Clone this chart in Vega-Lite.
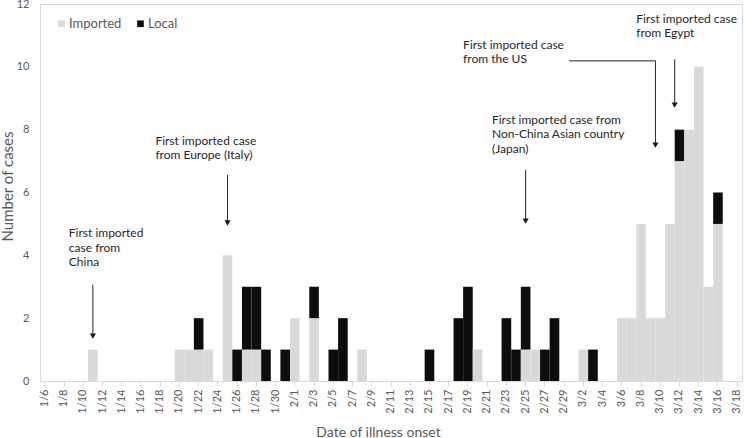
{
  "$schema": "https://vega.github.io/schema/vega-lite/v6.json",
  "width": 702,
  "height": 377,
  "autosize": {"type": "none"},
  "padding": {"left": 40, "top": 4, "right": 2, "bottom": 57},
  "background": "white",
  "config": {
    "font": "Lato",
    "view": {"stroke": "#d9d9d9", "strokeWidth": 1},
    "axis": {"grid": false}
  },
  "datasets": {
    "cases": [
      {"date": "1/6", "Imported": 0, "Local": 0},
      {"date": "1/7", "Imported": 0, "Local": 0},
      {"date": "1/8", "Imported": 0, "Local": 0},
      {"date": "1/9", "Imported": 0, "Local": 0},
      {"date": "1/10", "Imported": 0, "Local": 0},
      {"date": "1/11", "Imported": 1, "Local": 0},
      {"date": "1/12", "Imported": 0, "Local": 0},
      {"date": "1/13", "Imported": 0, "Local": 0},
      {"date": "1/14", "Imported": 0, "Local": 0},
      {"date": "1/15", "Imported": 0, "Local": 0},
      {"date": "1/16", "Imported": 0, "Local": 0},
      {"date": "1/17", "Imported": 0, "Local": 0},
      {"date": "1/18", "Imported": 0, "Local": 0},
      {"date": "1/19", "Imported": 0, "Local": 0},
      {"date": "1/20", "Imported": 1, "Local": 0},
      {"date": "1/21", "Imported": 1, "Local": 0},
      {"date": "1/22", "Imported": 1, "Local": 1},
      {"date": "1/23", "Imported": 1, "Local": 0},
      {"date": "1/24", "Imported": 0, "Local": 0},
      {"date": "1/25", "Imported": 4, "Local": 0},
      {"date": "1/26", "Imported": 0, "Local": 1},
      {"date": "1/27", "Imported": 1, "Local": 2},
      {"date": "1/28", "Imported": 1, "Local": 2},
      {"date": "1/29", "Imported": 0, "Local": 1},
      {"date": "1/30", "Imported": 0, "Local": 0},
      {"date": "1/31", "Imported": 0, "Local": 1},
      {"date": "2/1", "Imported": 2, "Local": 0},
      {"date": "2/2", "Imported": 0, "Local": 0},
      {"date": "2/3", "Imported": 2, "Local": 1},
      {"date": "2/4", "Imported": 0, "Local": 0},
      {"date": "2/5", "Imported": 0, "Local": 1},
      {"date": "2/6", "Imported": 0, "Local": 2},
      {"date": "2/7", "Imported": 0, "Local": 0},
      {"date": "2/8", "Imported": 1, "Local": 0},
      {"date": "2/9", "Imported": 0, "Local": 0},
      {"date": "2/10", "Imported": 0, "Local": 0},
      {"date": "2/11", "Imported": 0, "Local": 0},
      {"date": "2/12", "Imported": 0, "Local": 0},
      {"date": "2/13", "Imported": 0, "Local": 0},
      {"date": "2/14", "Imported": 0, "Local": 0},
      {"date": "2/15", "Imported": 0, "Local": 1},
      {"date": "2/16", "Imported": 0, "Local": 0},
      {"date": "2/17", "Imported": 0, "Local": 0},
      {"date": "2/18", "Imported": 0, "Local": 2},
      {"date": "2/19", "Imported": 0, "Local": 3},
      {"date": "2/20", "Imported": 1, "Local": 0},
      {"date": "2/21", "Imported": 0, "Local": 0},
      {"date": "2/22", "Imported": 0, "Local": 0},
      {"date": "2/23", "Imported": 0, "Local": 2},
      {"date": "2/24", "Imported": 0, "Local": 1},
      {"date": "2/25", "Imported": 1, "Local": 2},
      {"date": "2/26", "Imported": 1, "Local": 0},
      {"date": "2/27", "Imported": 0, "Local": 1},
      {"date": "2/28", "Imported": 0, "Local": 2},
      {"date": "2/29", "Imported": 0, "Local": 0},
      {"date": "3/1", "Imported": 0, "Local": 0},
      {"date": "3/2", "Imported": 1, "Local": 0},
      {"date": "3/3", "Imported": 0, "Local": 1},
      {"date": "3/4", "Imported": 0, "Local": 0},
      {"date": "3/5", "Imported": 0, "Local": 0},
      {"date": "3/6", "Imported": 2, "Local": 0},
      {"date": "3/7", "Imported": 2, "Local": 0},
      {"date": "3/8", "Imported": 5, "Local": 0},
      {"date": "3/9", "Imported": 2, "Local": 0},
      {"date": "3/10", "Imported": 2, "Local": 0},
      {"date": "3/11", "Imported": 5, "Local": 0},
      {"date": "3/12", "Imported": 7, "Local": 1},
      {"date": "3/13", "Imported": 8, "Local": 0},
      {"date": "3/14", "Imported": 10, "Local": 0},
      {"date": "3/15", "Imported": 3, "Local": 0},
      {"date": "3/16", "Imported": 5, "Local": 1},
      {"date": "3/17", "Imported": 0, "Local": 0},
      {"date": "3/18", "Imported": 0, "Local": 0}
    ],
    "notes": [
      {"date": "1/9", "v": 4.87, "label": ["First imported", "case from", "China"]},
      {"date": "1/18", "v": 7.8, "label": ["First imported case", "from Europe (Italy)"]},
      {"date": "2/22", "v": 8.47, "label": ["First imported case from", "Non-China Asian country", "(Japan)"]},
      {"date": "2/19", "v": 10.86, "label": ["First imported case", "from the US"]},
      {"date": "3/8", "v": 11.69, "label": ["First imported case", "from Egypt"]}
    ],
    "arrows": [
      {"id": "China", "grp": "c", "date": "1/11", "v": 3.06, "ord": 0, "head": false},
      {"id": "China", "grp": "c", "date": "1/11", "v": 1.43, "ord": 1, "head": true},
      {"id": "Italy", "grp": "c", "date": "1/25", "v": 6.56, "ord": 0, "head": false},
      {"id": "Italy", "grp": "c", "date": "1/25", "v": 5.03, "ord": 1, "head": true},
      {"id": "Japan", "grp": "c", "date": "2/25", "v": 6.72, "ord": 0, "head": false},
      {"id": "Japan", "grp": "c", "date": "2/25", "v": 5.09, "ord": 1, "head": true},
      {"id": "US", "grp": "s", "date": "3/1", "v": 10.19, "ord": 0, "head": false},
      {"id": "US", "grp": "s", "date": "3/10", "v": 10.19, "ord": 1, "head": false},
      {"id": "US", "grp": "s", "date": "3/10", "v": 7.51, "ord": 2, "head": true},
      {"id": "Egypt", "grp": "s", "date": "3/12", "v": 10.24, "ord": 0, "head": false},
      {"id": "Egypt", "grp": "s", "date": "3/12", "v": 8.78, "ord": 1, "head": true}
    ]
  },
  "encoding": {
    "x": {
      "field": "date",
      "type": "nominal",
      "sort": null,
      "scale": {
        "domain": ["1/6","1/7","1/8","1/9","1/10","1/11","1/12","1/13","1/14","1/15","1/16","1/17","1/18","1/19","1/20","1/21","1/22","1/23","1/24","1/25","1/26","1/27","1/28","1/29","1/30","1/31","2/1","2/2","2/3","2/4","2/5","2/6","2/7","2/8","2/9","2/10","2/11","2/12","2/13","2/14","2/15","2/16","2/17","2/18","2/19","2/20","2/21","2/22","2/23","2/24","2/25","2/26","2/27","2/28","2/29","3/1","3/2","3/3","3/4","3/5","3/6","3/7","3/8","3/9","3/10","3/11","3/12","3/13","3/14","3/15","3/16","3/17","3/18"],
        "paddingInner": 0,
        "paddingOuter": 0
      },
      "axis": {
        "title": "Date of illness onset",
        "values": ["1/6","1/8","1/10","1/12","1/14","1/16","1/18","1/20","1/22","1/24","1/26","1/28","1/30","2/1","2/3","2/5","2/7","2/9","2/11","2/13","2/15","2/17","2/19","2/21","2/23","2/25","2/27","2/29","3/2","3/4","3/6","3/8","3/10","3/12","3/14","3/16","3/18"],
        "tickBand": "extra",
        "labelAngle": -90,
        "labelAlign": "right",
        "labelBaseline": "middle",
        "labelFontSize": 11,
        "labelColor": "#595959",
        "labelPadding": 3,
        "tickColor": "#d9d9d9",
        "tickSize": 5,
        "domainColor": "#d9d9d9",
        "titleFontSize": 14,
        "titleFontWeight": "normal",
        "titleColor": "#595959",
        "titleX": 338,
        "titleY": 51,
        "titleBaseline": "middle"
      }
    },
    "y": {
      "type": "quantitative",
      "scale": {"domain": [0, 12], "nice": false},
      "axis": {
        "title": "Number of cases",
        "values": [0, 2, 4, 6, 8, 10, 12],
        "ticks": false,
        "labelPadding": 11,
        "labelFontSize": 11,
        "labelColor": "#595959",
        "domainColor": "#d9d9d9",
        "titleFontSize": 15,
        "titleFontWeight": "normal",
        "titleColor": "#595959",
        "titleX": -33,
        "titleY": 182,
        "titleBaseline": "middle",
        "titleAngle": -90,
        "titleAlign": "center"
      }
    }
  },
  "layer": [
    {
      "data": {"name": "cases"},
      "transform": [{"fold": ["Imported", "Local"], "as": ["series", "count"]}],
      "mark": {"type": "bar", "strokeWidth": 0},
      "encoding": {
        "y": {"field": "count", "type": "quantitative", "stack": "zero"},
        "color": {
          "field": "series",
          "type": "nominal",
          "scale": {"domain": ["Imported", "Local"], "range": ["#d9d9d9", "#0d0d0d"]},
          "legend": {
            "title": null,
            "orient": "none",
            "legendX": 15,
            "legendY": 13,
            "direction": "horizontal",
            "symbolType": "square",
            "symbolSize": 44,
            "symbolStrokeWidth": 0,
            "labelFontSize": 13,
            "labelColor": "#595959",
            "labelOffset": 1,
            "columnPadding": 12,
            "padding": 0
          }
        },
        "order": {"field": "series", "sort": "ascending"}
      }
    },
    {
      "data": {"name": "notes"},
      "mark": {"type": "text", "align": "left", "baseline": "top", "fontSize": 12, "lineHeight": 14.5, "color": "#262626"},
      "encoding": {
        "x": {"field": "date", "type": "nominal", "bandPosition": 0},
        "y": {"field": "v", "type": "quantitative"},
        "text": {"field": "label"}
      }
    },
    {
      "data": {"name": "arrows"},
      "transform": [{"filter": "datum.grp === 'c'"}],
      "mark": {"type": "line", "color": "#262626", "strokeWidth": 1},
      "encoding": {
        "x": {"field": "date", "type": "nominal", "bandPosition": 0.5},
        "y": {"field": "v", "type": "quantitative"},
        "detail": {"field": "id"},
        "order": {"field": "ord", "type": "quantitative"}
      }
    },
    {
      "data": {"name": "arrows"},
      "transform": [{"filter": "datum.grp === 's'"}],
      "mark": {"type": "line", "color": "#262626", "strokeWidth": 1},
      "encoding": {
        "x": {"field": "date", "type": "nominal", "bandPosition": 0},
        "y": {"field": "v", "type": "quantitative"},
        "detail": {"field": "id"},
        "order": {"field": "ord", "type": "quantitative"}
      }
    },
    {
      "data": {"name": "arrows"},
      "transform": [{"filter": "datum.head && datum.grp === 'c'"}],
      "mark": {"type": "point", "shape": "triangle-down", "filled": true, "size": 38, "color": "#1a1a1a", "opacity": 1},
      "encoding": {
        "x": {"field": "date", "type": "nominal", "bandPosition": 0.5},
        "y": {"field": "v", "type": "quantitative"}
      }
    },
    {
      "data": {"name": "arrows"},
      "transform": [{"filter": "datum.head && datum.grp === 's'"}],
      "mark": {"type": "point", "shape": "triangle-down", "filled": true, "size": 38, "color": "#1a1a1a", "opacity": 1},
      "encoding": {
        "x": {"field": "date", "type": "nominal", "bandPosition": 0},
        "y": {"field": "v", "type": "quantitative"}
      }
    }
  ]
}
